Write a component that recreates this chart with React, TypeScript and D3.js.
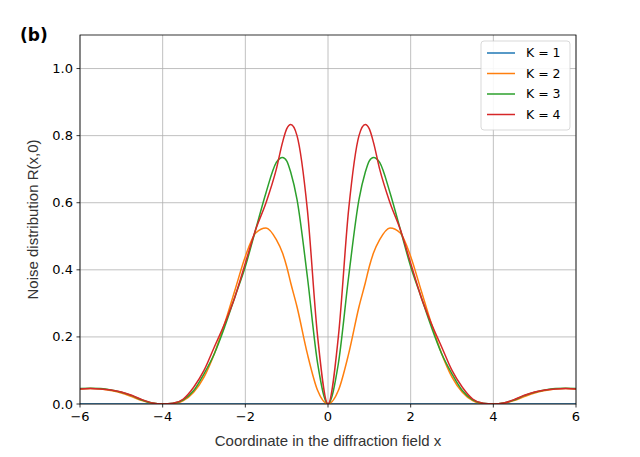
import React from 'react';
import * as d3 from 'd3';

// Right half (x >= 0) of each curve; curves are symmetric in x
const xs = [0, 0.25, 0.5, 0.75, 0.9, 1.0, 1.1, 1.25, 1.5, 1.75, 2.0, 2.25, 2.5, 2.75, 3.0, 3.25, 3.5, 3.75, 4.0, 4.25, 4.5, 4.75, 5.0, 5.25, 5.5, 5.75, 6.0];
const k1 = xs.map(() => 0);
const k2 = [0, 0.04, 0.15, 0.29, 0.36, 0.41, 0.45, 0.49, 0.525, 0.51, 0.44, 0.34, 0.24, 0.15, 0.08, 0.035, 0.01, 0.001, 0, 0.002, 0.01, 0.022, 0.033, 0.04, 0.045, 0.046, 0.045];
const k3 = [0, 0.12, 0.38, 0.61, 0.69, 0.725, 0.735, 0.72, 0.63, 0.52, 0.41, 0.32, 0.23, 0.15, 0.09, 0.04, 0.012, 0.002, 0, 0.003, 0.012, 0.025, 0.035, 0.042, 0.046, 0.047, 0.046];
const k4 = [0, 0.2, 0.58, 0.8, 0.833, 0.82, 0.78, 0.7, 0.6, 0.52, 0.42, 0.32, 0.24, 0.17, 0.1, 0.05, 0.015, 0.002, 0, 0.003, 0.013, 0.026, 0.036, 0.042, 0.045, 0.046, 0.045];
const labels = ['K = 1', 'K = 2', 'K = 3', 'K = 4'];
const colors = ['#1f77b4', '#ff7f0e', '#2ca02c', '#d62728'];
const xTicks = [-6, -4, -2, 0, 2, 4, 6];
const yTicks = [0, 0.2, 0.4, 0.6, 0.8, 1.0];

const full = (ys: number[]) => {
  const pts: [number, number][] = [];
  for (let i = xs.length - 1; i > 0; i--) pts.push([-xs[i], ys[i]]);
  for (let i = 0; i < xs.length; i++) pts.push([xs[i], ys[i]]);
  return pts;
};

export default function App() {
  const L = 80, R = 576, T = 35, B = 404;
  const x = d3.scaleLinear().domain([-6, 6]).range([L, R]);
  const y = d3.scaleLinear().domain([0, 1.1]).range([B, T]);
  const line = d3.line<[number, number]>().x(d => x(d[0])).y(d => y(d[1])).curve(d3.curveMonotoneX);
  const series = [k1, k2, k3, k4];
  return (
    <svg width={640} height={457} style={{ position: 'absolute', left: 0, top: 0, fontFamily: 'DejaVu Sans' }}>
      <rect width={640} height={457} fill="#fff" />
      <text x={20} y={41} fontSize={17} fontWeight="bold">(b)</text>
      {xTicks.map(t => <line key={'gx' + t} x1={x(t)} x2={x(t)} y1={T} y2={B} stroke="#b0b0b0" strokeWidth={0.8} />)}
      {yTicks.map(t => <line key={'gy' + t} x1={L} x2={R} y1={y(t)} y2={y(t)} stroke="#b0b0b0" strokeWidth={0.8} />)}
      <defs><clipPath id="c"><rect x={L} y={T} width={R - L} height={B - T} /></clipPath></defs>
      <g clipPath="url(#c)">
        {series.map((s, i) => <path key={i} d={line(full(s)) || ''} fill="none" stroke={colors[i]} strokeWidth={1.5} />)}
      </g>
      <rect x={L} y={T} width={R - L} height={B - T} fill="none" stroke="#000" strokeWidth={0.8} />
      {xTicks.map(t => (
        <g key={'tx' + t}>
          <line x1={x(t)} x2={x(t)} y1={B} y2={B + 3.5} stroke="#000" strokeWidth={0.8} />
          <text x={x(t)} y={B + 17} fontSize={13} textAnchor="middle">{t < 0 ? '\u2212' + -t : t}</text>
        </g>
      ))}
      {yTicks.map(t => (
        <g key={'ty' + t}>
          <line x1={L - 3.5} x2={L} y1={y(t)} y2={y(t)} stroke="#000" strokeWidth={0.8} />
          <text x={L - 7} y={y(t) + 4.5} fontSize={13} textAnchor="end">{t.toFixed(1)}</text>
        </g>
      ))}
      <text x={(L + R) / 2} y={446} fontSize={15} textAnchor="middle" fontFamily="Liberation Sans" fill="#333">Coordinate in the diffraction field x</text>
      <text transform={`translate(38,${(T + B) / 2}) rotate(-90)`} fontSize={15} textAnchor="middle" fontFamily="Liberation Sans" fill="#333">Noise distribution R(x,0)</text>
      <rect x={481} y={41} width={89} height={89} rx={3} fill="#fff" stroke="#ccc" strokeWidth={0.8} opacity={0.9} />
      {labels.map((l, i) => (
        <g key={l}>
          <line x1={487} x2={515} y1={53 + i * 20.5} y2={53 + i * 20.5} stroke={colors[i]} strokeWidth={1.5} />
          <text x={526} y={57 + i * 20.5} fontSize={12.5}>{l}</text>
        </g>
      ))}
    </svg>
  );
}
